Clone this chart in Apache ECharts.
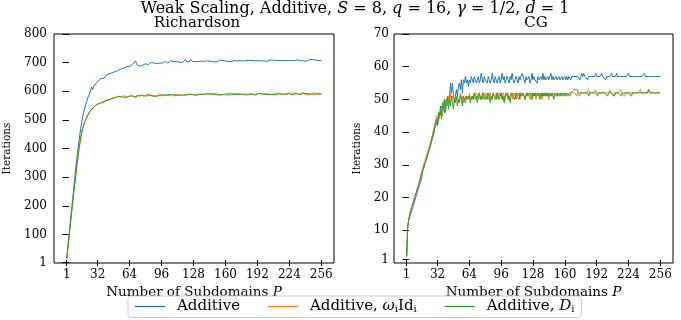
<!DOCTYPE html>
<html>
<head>
<meta charset="utf-8">
<script src="https://cdn.jsdelivr.net/npm/echarts@6/dist/echarts.min.js"></script>
<style>
html, body { margin: 0; padding: 0; background: #fff; }
#chart { width: 681px; height: 320px; }
</style>
</head>
<body>
<div id="chart"></div>
<script>
// iterations vs number of subdomains P (P = 1..256)

var richAdd = [
  15, 50, 85, 120, 155, 190, 225, 260, 295, 330,
  362, 392, 420, 446, 470, 492, 510, 526, 540, 553,
  565, 576, 585, 594, 600, 614, 606, 618, 624, 620,
  630, 634, 638, 635, 642, 645, 648, 650, 646, 655,
  658, 654, 660, 662, 658, 664, 667, 663, 668, 670,
  666, 672, 674, 670, 677, 675, 679, 681, 676, 684,
  686, 682, 690, 687, 683, 688, 694, 690, 700, 706,
  694, 689, 692, 688, 690, 693, 691, 694, 692, 696,
  694, 697, 693, 698, 700, 696, 703, 699, 705, 701,
  697, 702, 700, 698, 704, 701, 699, 703, 700, 705,
  702, 698, 704, 700, 706, 702, 700, 704, 701, 707,
  703, 700, 705, 702, 708, 704, 700, 706, 702, 711,
  704, 700, 706, 703, 712, 708, 704, 700, 706, 703,
  705, 701, 704, 707, 702, 705, 703, 706, 704, 702,
  705, 707, 703, 706, 704, 701, 705, 703, 707, 704,
  702, 706, 704, 708, 703, 705, 707, 704, 702, 706,
  704, 707, 703, 705, 708, 704, 706, 703, 707, 705,
  703, 706, 708, 704, 707, 705, 703, 706, 709, 705,
  707, 704, 706, 708, 705, 703, 707, 709, 705, 706,
  708, 704, 707, 705, 709, 706, 704, 708, 706, 710,
  707, 705, 708, 706, 709, 707, 705, 708, 710, 706,
  708, 705, 709, 707, 711, 706, 708, 705, 709, 707,
  706, 709, 707, 710, 705, 708, 706, 709, 707, 705,
  708, 710, 706, 709, 707, 711, 708, 706, 709, 707,
  705, 709, 707, 710, 708, 706, 711, 708, 706, 709,
  707, 710, 708, 706, 709, 707
];

var richOmega = [
  15, 47, 80, 113, 146, 178, 210, 242, 272, 302,
  332, 361, 388, 412, 434, 452, 467, 479, 490, 497,
  505, 513, 519, 526, 530, 537, 540, 532, 547, 552,
  548, 556, 553, 561, 557, 562, 565, 558, 567, 570,
  565, 571, 568, 574, 570, 577, 573, 579, 575, 580,
  576, 583, 578, 585, 579, 582, 576, 584, 580, 586,
  581, 578, 585, 582, 587, 580, 584, 588, 583, 579,
  586, 583, 588, 581, 585, 589, 584, 582, 587, 585,
  588, 583, 586, 590, 585, 582, 588, 586, 584, 589,
  586, 583, 588, 591, 586, 584, 589, 587, 585, 590,
  587, 585, 590, 588, 586, 591, 587, 589, 586, 592,
  588, 585, 590, 587, 592, 589, 586, 591, 588, 590,
  587, 592, 589, 586, 591, 588, 593, 589, 587, 591,
  589, 586, 592, 588, 590, 587, 593, 589, 591, 588,
  590, 593, 588, 591, 589, 587, 592, 590, 588, 593,
  589, 591, 588, 592, 590, 587, 591, 593, 589, 591,
  588, 592, 590, 589, 593, 590, 588, 592, 591, 589,
  593, 590, 588, 592, 590, 594, 589, 591, 588, 592,
  590, 593, 589, 591, 588, 592, 594, 590, 588, 592,
  590, 593, 591, 589, 592, 590, 594, 591, 589, 592,
  590, 593, 589, 591, 594, 590, 588, 592, 591, 593,
  589, 591, 594, 590, 592, 589, 593, 591, 590, 594,
  591, 589, 592, 590, 594, 591, 589, 593, 590, 592,
  594, 590, 591, 589, 593, 591, 595, 590, 592, 589,
  593, 591, 589, 594, 592, 590, 593, 591, 595, 590,
  592, 589, 593, 591, 590, 590
];

var richD = [
  15, 48, 82, 115, 148, 181, 213, 245, 276, 306,
  336, 365, 393, 418, 440, 458, 472, 484, 494, 502,
  510, 517, 523, 529, 534, 538, 542, 545, 548, 551,
  553, 550, 556, 558, 555, 560, 562, 559, 564, 566,
  563, 568, 570, 566, 572, 574, 571, 576, 578, 575,
  579, 581, 577, 580, 582, 578, 581, 579, 583, 580,
  578, 582, 580, 584, 581, 579, 583, 585, 582, 580,
  584, 582, 586, 583, 581, 585, 583, 587, 584, 582,
  586, 584, 582, 585, 587, 584, 586, 583, 587, 585,
  583, 586, 588, 585, 587, 584, 588, 586, 584, 587,
  589, 586, 588, 585, 587, 589, 586, 588, 584, 587,
  589, 586, 588, 590, 587, 585, 589, 587, 590, 588,
  586, 589, 587, 590, 588, 586, 589, 591, 588, 586,
  589, 587, 590, 588, 586, 589, 591, 588, 590, 587,
  589, 591, 588, 586, 590, 588, 591, 589, 587, 590,
  588, 591, 589, 587, 590, 592, 589, 587, 590, 588,
  591, 589, 587, 590, 592, 588, 590, 591, 588, 590,
  592, 589, 587, 591, 589, 592, 590, 588, 591, 589,
  587, 590, 592, 589, 591, 588, 590, 592, 589, 587,
  591, 589, 592, 590, 588, 591, 589, 593, 590, 588,
  591, 589, 592, 590, 588, 591, 593, 589, 591, 590,
  588, 592, 590, 591, 589, 593, 590, 588, 592, 590,
  591, 589, 593, 590, 592, 588, 591, 593, 590, 592,
  589, 591, 593, 590, 588, 592, 590, 593, 591, 589,
  592, 590, 594, 591, 589, 592, 590, 593, 591, 589,
  592, 590, 593, 591, 589, 590
];

var cgAdd = [
  2, 11, 13, 14, 15, 16, 17, 18, 19, 20,
  21, 22, 23, 24, 25, 26, 28, 29, 30, 31,
  32, 33, 34, 35, 36, 37, 38, 39, 41, 42,
  43, 42, 44, 45, 46, 45, 47, 48, 46, 49,
  50, 48, 51, 50, 55, 52, 55, 51, 50, 51,
  53, 51, 54, 55, 53, 56, 52, 56, 55, 57,
  55, 56, 54, 56, 55, 57, 56, 55, 57, 56,
  55, 56, 57, 55, 56, 58, 56, 55, 57, 56,
  56, 55, 57, 56, 55, 56, 58, 56, 55, 57,
  56, 55, 56, 57, 55, 56, 58, 56, 57, 55,
  56, 57, 56, 55, 57, 56, 58, 56, 55, 56,
  57, 56, 55, 57, 56, 56, 58, 57, 56, 55,
  57, 56, 56, 57, 55, 56, 58, 56, 57, 56,
  56, 55, 57, 56, 56, 57, 56, 58, 56, 57,
  56, 56, 57, 56, 56, 58, 56, 57, 56, 56,
  57, 56, 56, 57, 56, 56, 57, 56, 56, 57,
  56, 57, 56, 57, 57, 56, 57, 57, 57, 57,
  57, 57, 57, 57, 56, 57, 58, 57, 58, 57,
  57, 57, 56, 57, 57, 57, 57, 57, 57, 57,
  58, 57, 57, 57, 57, 57, 58, 57, 57, 57,
  56, 57, 57, 57, 57, 57, 58, 57, 57, 57,
  57, 58, 57, 57, 57, 57, 57, 57, 57, 57,
  57, 57, 57, 58, 57, 57, 57, 57, 57, 57,
  57, 57, 57, 57, 57, 57, 57, 57, 57, 58,
  57, 57, 57, 57, 57, 57, 57, 57, 57, 57,
  57, 57, 57, 57, 57, 57
];

var cgOmega = [
  2, 11, 13, 15, 16, 17, 18, 19, 20, 21,
  22, 23, 24, 25, 27, 28, 29, 30, 31, 32,
  33, 34, 35, 36, 37, 38, 39, 41, 42, 43,
  45, 43, 46, 44, 47, 48, 45, 49, 50, 47,
  50, 48, 51, 49, 52, 50, 51, 50, 49, 51,
  50, 51, 49, 50, 52, 50, 51, 49, 50, 51,
  50, 51, 50, 52, 50, 51, 50, 51, 52, 51,
  52, 51, 50, 52, 51, 50, 52, 51, 50, 52,
  51, 52, 50, 51, 52, 50, 51, 52, 51, 50,
  52, 51, 50, 52, 51, 52, 50, 52, 51, 50,
  52, 51, 52, 50, 51, 52, 51, 50, 52, 51,
  50, 52, 51, 52, 50, 52, 51, 52, 51, 50,
  52, 51, 52, 51, 50, 52, 51, 52, 51, 52,
  50, 52, 51, 52, 51, 52, 50, 52, 51, 52,
  52, 51, 52, 50, 52, 52, 51, 52, 52, 51,
  52, 52, 51, 52, 52, 51, 52, 52, 52, 51,
  52, 52, 51, 52, 52, 52, 52, 52, 52, 52,
  52, 51, 52, 52, 51, 52, 52, 52, 52, 52,
  52, 52, 52, 53, 52, 52, 52, 52, 52, 52,
  53, 52, 52, 52, 52, 52, 52, 52, 52, 52,
  52, 52, 52, 52, 53, 52, 52, 52, 51, 52,
  52, 52, 52, 52, 52, 53, 52, 52, 52, 51,
  52, 52, 52, 52, 52, 52, 52, 52, 52, 52,
  52, 52, 52, 52, 52, 53, 52, 52, 52, 52,
  52, 52, 52, 52, 53, 52, 52, 52, 52, 52,
  52, 52, 52, 52, 52, 52
];

var cgD = [
  2, 11, 13, 15, 16, 17, 18, 19, 20, 21,
  22, 23, 24, 25, 26, 27, 28, 29, 30, 31,
  32, 33, 34, 35, 36, 38, 39, 40, 41, 43,
  44, 42, 46, 45, 48, 44, 49, 47, 50, 46,
  49, 51, 47, 50, 48, 51, 49, 47, 50, 49,
  51, 48, 50, 49, 51, 50, 48, 51, 50, 49,
  51, 50, 50, 51, 49, 50, 51, 50, 52, 50,
  51, 49, 51, 52, 50, 51, 50, 52, 51, 50,
  51, 50, 52, 51, 49, 51, 50, 52, 51, 51,
  50, 52, 51, 50, 51, 52, 50, 51, 49, 51,
  52, 51, 50, 51, 49, 51, 52, 51, 51, 50,
  52, 51, 51, 50, 52, 51, 51, 52, 51, 50,
  51, 52, 51, 51, 52, 51, 50, 52, 51, 52,
  51, 51, 52, 51, 50, 52, 51, 52, 51, 52,
  51, 52, 51, 52, 52, 51, 52, 51, 50, 52,
  52, 51, 52, 52, 51, 52, 52, 51, 52, 52,
  51, 52, 52, 52, 51, 52, 52, 52, 53, 53,
  53, 53, 53, 52, 52, 52, 52, 52, 52, 52,
  52, 52, 52, 51, 52, 52, 52, 52, 52, 52,
  52, 52, 51, 52, 52, 52, 52, 52, 52, 52,
  52, 52, 51, 52, 52, 52, 52, 52, 52, 51,
  52, 52, 52, 52, 52, 52, 51, 52, 52, 52,
  52, 52, 52, 52, 52, 52, 51, 52, 52, 52,
  52, 52, 52, 52, 52, 52, 52, 52, 52, 52,
  52, 52, 52, 53, 52, 52, 52, 52, 52, 52,
  52, 52, 52, 52, 52, 52
];

var xTicks = [1, 32, 64, 96, 128, 160, 192, 224, 256];
var richTicks = [1, 100, 200, 300, 400, 500, 600, 700, 800];
var cgTicks = [1, 10, 20, 30, 40, 50, 60, 70];
var names = ['Additive', 'Additive, \u03c9iIdi', 'Additive, Di'];
var colors = ['#1f77b4', '#ff7f0e', '#2ca02c'];

var FONT = 'DejaVu Serif';

function pairs(vals) {
  return vals.map(function (v, i) { return [i + 1, v]; });
}

var tickLine = { color: '#000', width: 1 };

// ticks cross the frame: one axis draws them outside, a twin draws them inside
function xAxesFor(grid) {
  var base = { type: 'value', gridIndex: grid, min: -11.75, max: 268.75,
    splitLine: { show: false }, axisLine: { show: false } };
  return [
    Object.assign({}, base, {
      position: 'bottom',
      name: 'Number of Subdomains {i|P}', nameLocation: 'middle', nameGap: 20,
      nameTextStyle: { fontFamily: FONT, fontSize: 13.5, color: '#000',
        rich: { i: { fontFamily: FONT, fontSize: 13.5, fontStyle: 'italic', color: '#000' } } },
      axisTick: { customValues: xTicks, length: 3, lineStyle: tickLine },
      axisLabel: { customValues: xTicks, margin: 6, fontFamily: FONT, fontSize: 12, color: '#000' }
    }),
    Object.assign({}, base, { position: 'bottom',
      axisTick: { customValues: xTicks, length: 3, inside: true, lineStyle: tickLine },
      axisLabel: { show: false } }),
    Object.assign({}, base, { position: 'top',
      axisTick: { customValues: xTicks, length: 3, lineStyle: tickLine },
      axisLabel: { show: false } }),
    Object.assign({}, base, { position: 'top',
      axisTick: { customValues: xTicks, length: 3, inside: true, lineStyle: tickLine },
      axisLabel: { show: false } })
  ];
}

function yAxesFor(grid, max, ticks, margin, nameGap) {
  var base = { type: 'value', gridIndex: grid, min: 0, max: max,
    splitLine: { show: false }, axisLine: { show: false } };
  return [
    Object.assign({}, base, {
      position: 'left',
      name: 'Iterations', nameLocation: 'middle', nameGap: nameGap, nameRotate: 90,
      nameTextStyle: { fontFamily: FONT, fontSize: 10.5, color: '#000' },
      axisTick: { customValues: ticks, length: 3, lineStyle: tickLine },
      axisLabel: { customValues: ticks, margin: margin, fontFamily: FONT, fontSize: 12, color: '#000' }
    }),
    Object.assign({}, base, { position: 'left',
      axisTick: { customValues: ticks, length: 3, inside: true, lineStyle: tickLine },
      axisLabel: { show: false } }),
    Object.assign({}, base, { position: 'right',
      axisTick: { customValues: ticks, length: 3, lineStyle: tickLine },
      axisLabel: { show: false } }),
    Object.assign({}, base, { position: 'right',
      axisTick: { customValues: ticks, length: 3, inside: true, lineStyle: tickLine },
      axisLabel: { show: false } })
  ];
}

function lineSeries(idx, vals, axis) {
  return {
    name: names[idx], type: 'line', data: pairs(vals),
    xAxisIndex: axis, yAxisIndex: axis,
    symbol: 'none', showSymbol: false, color: colors[idx],
    lineStyle: { width: 1, color: colors[idx] },
    z: 2 + idx
  };
}

var legendText = {
  'Additive': 'Additive',
  'Additive, \u03c9iIdi': 'Additive, {i|\u03c9}{s|i}Id{s|i}',
  'Additive, Di': 'Additive, {i|D}{s|i}'
};

var myChart = echarts.init(document.getElementById('chart'), null, { renderer: 'canvas' });

var option = {
  animation: false,
  backgroundColor: '#fff',
  title: [
    { text: 'Weak Scaling, Additive, {i|S} = 8, {i|q} = 16, {i|\u03b3} = 1/2, {i|d} = 1',
      left: 355, textAlign: 'center', top: 1, padding: 0,
      textStyle: { fontFamily: FONT, fontSize: 16, fontWeight: 'normal', color: '#000',
        rich: { i: { fontFamily: FONT, fontSize: 16, fontStyle: 'italic', color: '#000' } } } },
    { text: 'Richardson', left: 197, textAlign: 'center', top: 16, padding: 0,
      textStyle: { fontFamily: FONT, fontSize: 15, fontWeight: 'normal', color: '#000' } },
    { text: 'CG', left: 536, textAlign: 'center', top: 16, padding: 0,
      textStyle: { fontFamily: FONT, fontSize: 15, fontWeight: 'normal', color: '#000' } }
  ],
  legend: {
    data: names, left: 128, top: 296, icon: 'rect',
    padding: [3, 7], itemGap: 28, itemWidth: 30, itemHeight: 1.3,
    borderColor: '#cccccc', borderWidth: 1, borderRadius: 3,
    formatter: function (name) { return legendText[name]; },
    textStyle: { fontFamily: FONT, fontSize: 15, color: '#000', padding: [0, 3, 0, 7],
      rich: {
        i: { fontFamily: FONT, fontSize: 15, fontStyle: 'italic', color: '#000' },
        s: { fontFamily: FONT, fontSize: 10, color: '#000', padding: [6, 0, 0, 0] }
      } }
  },
  grid: [
    { left: 54, right: 347, top: 34, bottom: 57, show: true, borderColor: '#000', borderWidth: 1 },
    { left: 394, right: 8, top: 34, bottom: 57, show: true, borderColor: '#000', borderWidth: 1 }
  ],
  xAxis: xAxesFor(0).concat(xAxesFor(1)),
  yAxis: yAxesFor(0, 800, richTicks, 7, 41).concat(yAxesFor(1, 70, cgTicks, 5, 31)),
  series: [
    lineSeries(0, richAdd, 0),
    lineSeries(1, richOmega, 0),
    lineSeries(2, richD, 0),
    lineSeries(0, cgAdd, 4),
    lineSeries(1, cgOmega, 4),
    lineSeries(2, cgD, 4)
  ]
};

myChart.setOption(option);
window.addEventListener('resize', function () {
  myChart.resize();
});
</script>
</body>
</html>
